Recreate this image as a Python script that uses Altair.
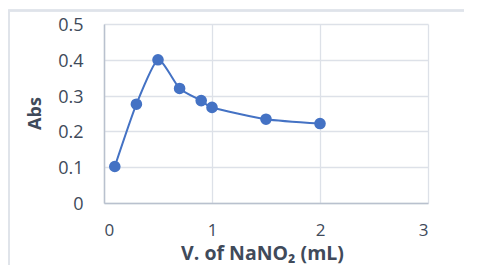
import altair as alt
import pandas as pd

volume = [0.1, 0.3, 0.5, 0.7, 0.9, 1.0, 1.5, 2.0]
absorbance = [0.102, 0.276, 0.400, 0.320, 0.286, 0.267, 0.234, 0.222]
x_ticks = [0, 1, 2, 3]
y_ticks = [0, 0.1, 0.2, 0.3, 0.4, 0.5]

df = pd.DataFrame({"v": volume, "a": absorbance})

FONT = "Open Sans"
TXT = "#404a5a"
BLUE = "#4472C4"

x = alt.X("v:Q", scale=alt.Scale(domain=[0, 3], nice=False),
          axis=alt.Axis(values=x_ticks, title="V. of NaNO₂ (mL)", format="d",
                        labelPadding=19, labelFontSize=17, titleX=158, titleY=50.5,
                        titleBaseline="middle", titleFontSize=19.5))
y = alt.Y("a:Q", scale=alt.Scale(domain=[0, 0.5], nice=False),
          axis=alt.Axis(values=y_ticks, title="Abs", format="~g",
                        labelPadding=21, labelOffset=1.5, labelFontSize=18,
                        titleX=-69, titleY=89,
                        titleBaseline="middle", titleFontSize=18))

border = alt.Chart(df).mark_rect(fill=None, stroke="#dfe3ea", strokeWidth=1.5).encode(
    x=alt.value(-95), x2=alt.value(400), y=alt.value(-13.5), y2=alt.value(120 + 179)
)

line = alt.Chart(df).mark_line(color=BLUE, strokeWidth=2, interpolate="cardinal", tension=0.4).encode(x=x, y=y)
pts = alt.Chart(df).mark_point(filled=True, color=BLUE, size=135, opacity=1).encode(x=x, y=y)

chart = alt.layer(border, line, pts).properties(
    width=324, height=179,
    autosize=alt.AutoSizeParams(type="none"),
    padding={"left": 96, "top": 16, "right": 36, "bottom": 62},
).configure_view(stroke=None).configure_axis(
    labelFont=FONT, titleFont=FONT,
    labelColor=TXT, titleColor=TXT, titleFontWeight="bold",
    ticks=False, grid=True, gridColor="#dde1e8", gridWidth=1.3,
    domainColor="#b9c1ce", domainWidth=1.5,
)

chart.save("out.html", embed_options={"renderer": "svg", "actions": False})
